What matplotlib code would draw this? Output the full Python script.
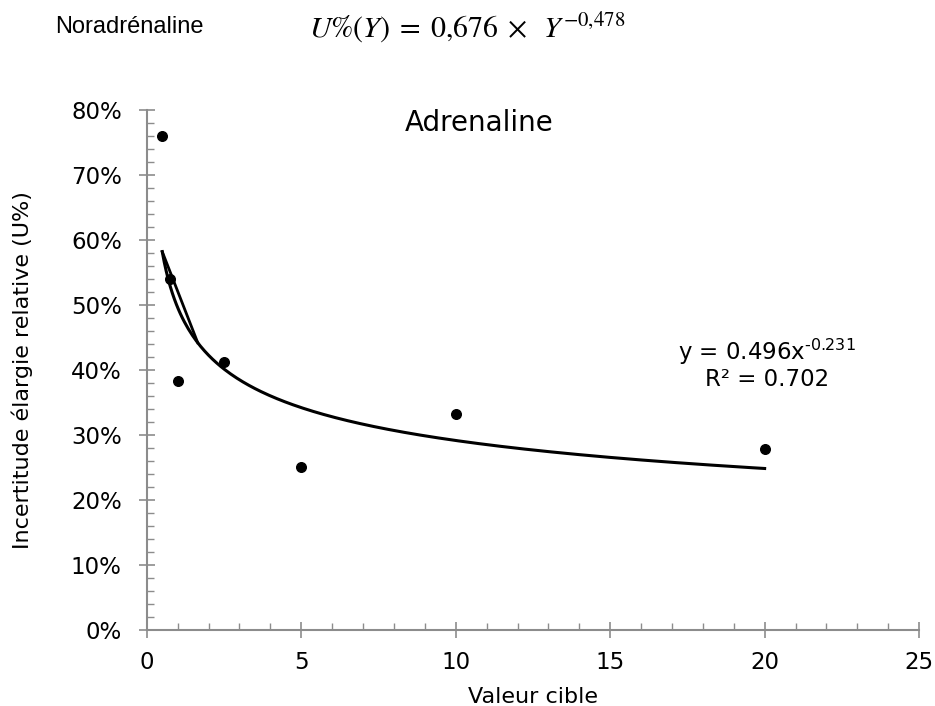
import numpy as np
import matplotlib.pyplot as plt
from matplotlib.ticker import MultipleLocator, FuncFormatter

# Données
valeur_cible = [0.5, 0.75, 1.0, 2.5, 5.0, 10.0, 20.0]
incertitude = [0.76, 0.54, 0.383, 0.412, 0.251, 0.332, 0.278]

# Courbe de tendance puissance (coefficients affichés)
coef_a = 0.496
coef_b = -0.231
r2 = 0.702

plt.rcParams['font.family'] = ['DejaVu Sans']
plt.rcParams['mathtext.fontset'] = 'stix'

fig = plt.figure(figsize=(9.35, 7.06), dpi=100)
ax = fig.add_axes([0.157, 0.108, 0.826, 0.736])

x_min, x_max = min(valeur_cible), max(valeur_cible)
xs = np.linspace(x_min, x_max, 300)
ax.plot(xs, coef_a * xs ** coef_b, color='black', lw=2.2, zorder=2)
# petit défaut de tracé d'Excel au début de la courbe
x_corde = [x_min, 1.65]
ax.plot(x_corde, [coef_a * v ** coef_b for v in x_corde], color='black', lw=2.0, zorder=2)

ax.scatter(valeur_cible, incertitude, s=48, color='black', zorder=3)

ax.set_xlim(0, 25)
ax.set_ylim(0, 0.8)
ax.xaxis.set_major_locator(MultipleLocator(5))
ax.xaxis.set_minor_locator(MultipleLocator(1))
ax.yaxis.set_major_locator(MultipleLocator(0.1))
ax.yaxis.set_minor_locator(MultipleLocator(0.02))
ax.yaxis.set_major_formatter(FuncFormatter(lambda v, p: f"{v*100:.0f}%"))

gris = '#8c8c8c'
for s in ['top', 'right']:
    ax.spines[s].set_visible(False)
for s in ['left', 'bottom']:
    ax.spines[s].set_color(gris)
    ax.spines[s].set_linewidth(1.5)
ax.tick_params(which='major', direction='inout', length=12, width=1.2, color=gris,
               labelsize=16.5)
ax.tick_params(axis='x', which='major', pad=9)
ax.tick_params(axis='y', which='major', pad=12)
ax.tick_params(which='minor', direction='in', length=5, width=1.0, color=gris)

ax.set_xlabel("Valeur cible", fontsize=16, va='center')
ax.set_ylabel("Incertitude élargie relative (U%)", fontsize=16, va='center')
ax.xaxis.set_label_coords(0.5, -0.129)
ax.yaxis.set_label_coords(-0.161, 0.5)

ax.text(10.75, 0.78, "Adrenaline", fontsize=20, ha='center', va='center')
ax.text(20.07, 0.409, f"y = {coef_a}x$^{{\\text{{{coef_b}}}}}$\nR² = {r2}",
        fontsize=16.5, ha='center', va='center', linespacing=1.05,
        math_fontfamily='dejavusans')

fig.text(0.059, 0.962, "Noradrénaline", fontsize=17,
         family=['Liberation Sans Narrow', 'Liberation Sans', 'DejaVu Sans'],
         ha='left', va='center')
fig.text(0.331, 0.96, r"$U\%(Y)\;=\;0{,}676\;\times\;\;Y^{-0{,}478}$", fontsize=21.5,
         ha='left', va='center')

fig.savefig("out.png", dpi=100)
